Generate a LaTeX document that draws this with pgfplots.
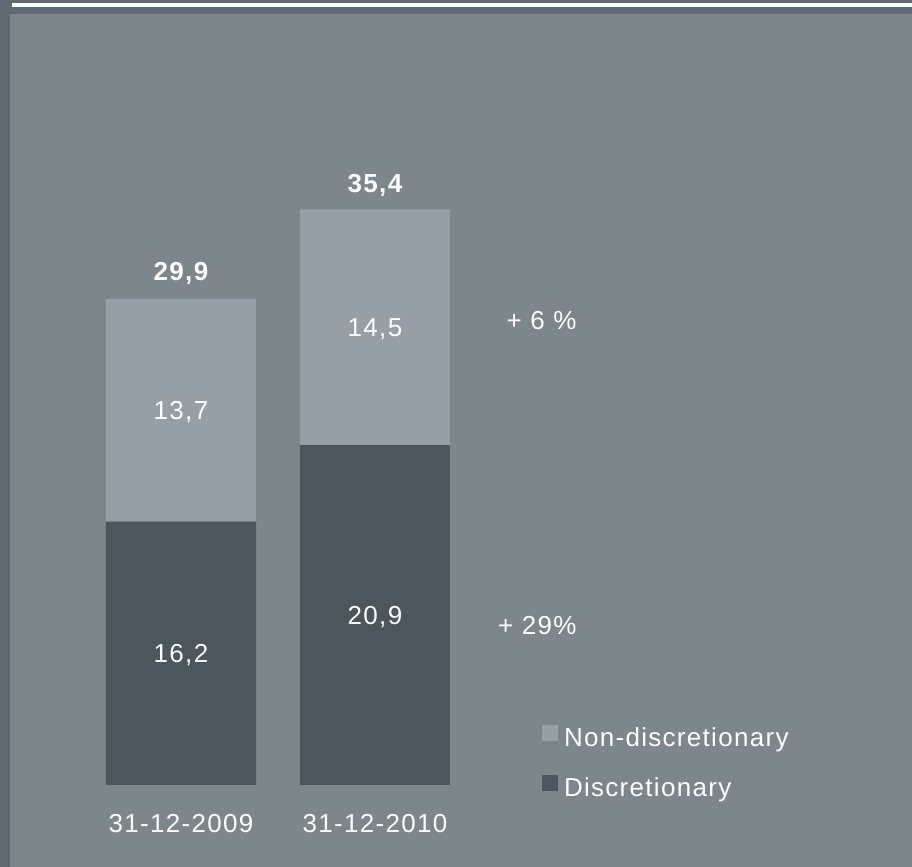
\documentclass[border=0pt]{standalone}
\usepackage{fontspec}
\setmainfont{Liberation Sans}[LetterSpace=5]
\usepackage{pgfplots}
\pgfplotsset{compat=1.18}

\definecolor{bgmain}{RGB}{124,134,139}
\definecolor{strip}{RGB}{93,106,113}
\definecolor{barlight}{RGB}{150,159,165}
\definecolor{bardark}{RGB}{76,87,93}

\newcommand\lblfont{\fontsize{13}{15}\selectfont}
\tikzset{lbl/.style={text=white, font=\lblfont, inner sep=0pt}}

\begin{document}
\begin{tikzpicture}
% background (1px = 0.5pt)
\fill[bgmain] (0,0) rectangle (456pt,433.5pt);
\fill[strip] (0,0) rectangle (5pt,433.5pt);
\fill[strip] (0,426.5pt) rectangle (456pt,433.5pt);
\fill[white] (6pt,430pt) rectangle (456pt,431.8pt);

\begin{axis}[
  scale only axis, width=388pt, height=325.2pt,
  at={(42pt,41pt)}, anchor=south west,
  ybar stacked, bar width=75pt,
  xmin=-0.5, xmax=3.5, ymin=0, ymax=40, enlargelimits=false,
  axis line style={draw=none}, tick style={draw=none},
  ytick=\empty, xtick={0,1},
  xticklabels={31-12-2009,31-12-2010},
  xticklabel style={anchor=base, yshift=-24pt, inner sep=0pt, text=white},
  font=\lblfont,
  clip=false,
  reverse legend,
  legend cell align=left,
  legend style={at={(axis cs:1.861,3.71)}, anchor=north west,
    draw=none, fill=none, inner sep=0pt, outer sep=0pt,
    text=white, row sep=11pt, column sep=3pt,
    font=\lblfont,
    nodes={inner sep=0pt, text height=9pt, text depth=3pt}},
  legend image code/.code={\fill[#1] (0pt,0pt) rectangle (8pt,8pt);},
]
\addplot[fill=bardark, draw=none] coordinates {(0,16.2) (1,20.9)};
\addlegendentry{Discretionary}
\addplot[fill=barlight, draw=none] coordinates {(0,13.7) (1,14.5)};
\addlegendentry{Non-discretionary}

\coordinate (d0) at (axis cs:0,8.1);
\coordinate (n0) at (axis cs:0,23.05);
\coordinate (d1) at (axis cs:1,10.45);
\coordinate (n1) at (axis cs:1,28.15);
\coordinate (t0) at (axis cs:0,29.9);
\coordinate (t1) at (axis cs:1,35.4);
\coordinate (g1) at (axis cs:2.041,28.04);
\coordinate (g0) at (axis cs:2.041,9.225);
\end{axis}

\node[lbl, anchor=base, yshift=-4.5pt] at (d0) {16,2};
\node[lbl, anchor=base, yshift=-4.5pt] at (n0) {13,7};
\node[lbl, anchor=base, yshift=-4.5pt] at (d1) {20,9};
\node[lbl, anchor=base, yshift=-4.5pt] at (n1) {14,5};
\node[lbl, anchor=base, yshift=9pt, font=\lblfont\bfseries] at (t0) {29,9};
\node[lbl, anchor=base, yshift=8.5pt, font=\lblfont\bfseries] at (t1) {35,4};
\node[lbl, anchor=base east] at (g1) {+ 6 \%};
\node[lbl, anchor=base east] at (g0) {+ 29\%};

\pgfresetboundingbox
\useasboundingbox (0,0) rectangle (456pt,433.5pt);
\end{tikzpicture}
\end{document}
